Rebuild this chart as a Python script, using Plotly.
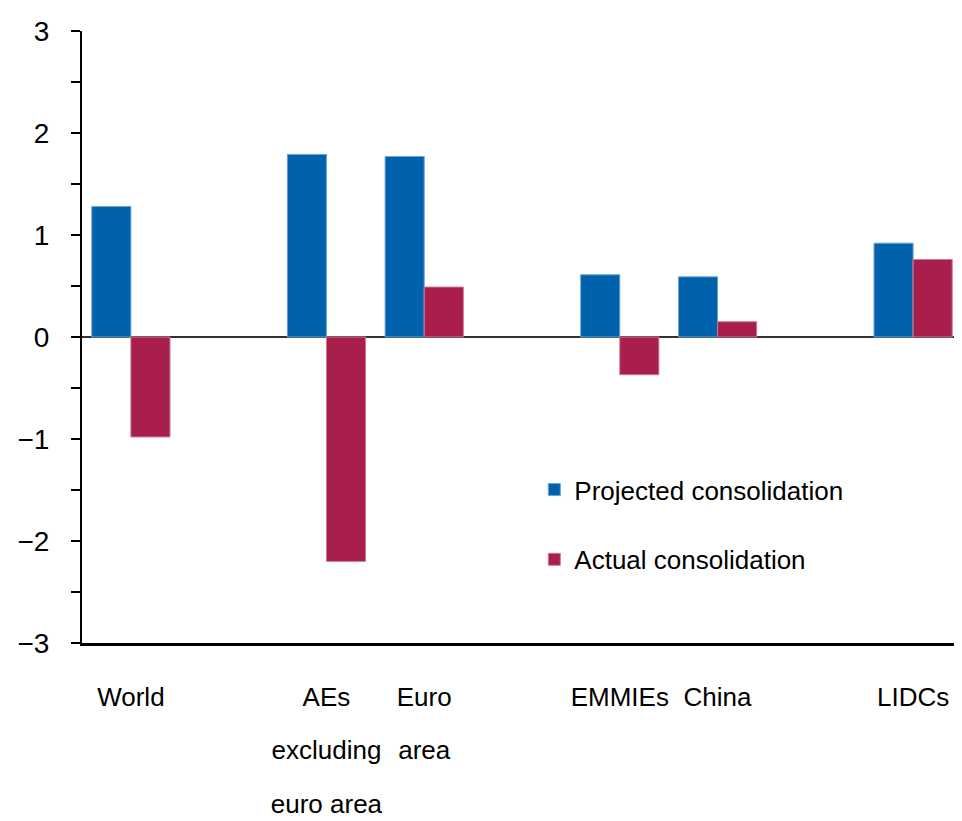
import plotly.graph_objects as go

# category slots (gaps left empty between groups)
slots = [0, 2, 3, 5, 6, 8]
label_lines = [["World"], ["AEs", "excluding", "euro area"], ["Euro", "area"],
               ["EMMIEs"], ["China"], ["LIDCs"]]
projected = [1.28, 1.79, 1.77, 0.61, 0.59, 0.92]
actual = [-0.98, -2.20, 0.49, -0.37, 0.15, 0.76]

blue = "#0062AD"
red = "#A81F4B"
font = "Liberation Sans Narrow, Arial Narrow, Liberation Sans, sans-serif"

# wide line spacing like the original, smaller glyphs
labels = ["<br>".join(f'<span style="font-size:26px">{t}</span>' for t in ls)
          for ls in label_lines]

fig = go.Figure()
fig.add_trace(go.Bar(x=slots, y=projected, name="Projected consolidation",
                     marker=dict(color=blue, line=dict(color="#6FA3D6", width=1)),
                     legend="legend", showlegend=True))
fig.add_trace(go.Bar(x=slots, y=actual, name="Actual consolidation",
                     marker=dict(color=red, line=dict(color="#D07A95", width=1)),
                     legend="legend2", showlegend=True))

fig.update_layout(
    width=962, height=821,
    margin=dict(l=74, r=8, t=23, b=186),
    plot_bgcolor="white", paper_bgcolor="white",
    barmode="group", bargap=0.2, bargroupgap=0,
    showlegend=True,
    font=dict(family=font, size=26, color="black"),
    legend=dict(x=0.514, y=0.289, xanchor="left", yanchor="top",
                bgcolor="rgba(0,0,0,0)", font=dict(size=26)),
    legend2=dict(x=0.514, y=0.175, xanchor="left", yanchor="top",
                 bgcolor="rgba(0,0,0,0)", font=dict(size=26)),
)

fig.update_xaxes(
    range=[-0.5, 8.5], tickvals=slots, ticktext=labels,
    tickfont=dict(size=41),
    showline=True, linecolor="black", linewidth=2.5,
    ticks="", showgrid=False, zeroline=False, automargin=False,
    ticklabelstandoff=11, tickangle=0,
)
fig.update_yaxes(
    range=[-3, 3], tickvals=[-3, -2.5, -2, -1.5, -1, -0.5, 0, 0.5, 1, 1.5, 2, 2.5, 3],
    ticktext=["\u22123", "", "\u22122", "", "\u22121", "", "0", "", "1", "", "2", "", "3"],
    tickfont=dict(size=28),
    showline=True, linecolor="black", linewidth=2,
    ticks="outside", ticklen=9, tickwidth=2, tickcolor="black",
    showgrid=False, zeroline=True, zerolinecolor="#333333", zerolinewidth=1.5,
    ticklabelstandoff=16, automargin=False,
)

fig.write_html("out.html")
